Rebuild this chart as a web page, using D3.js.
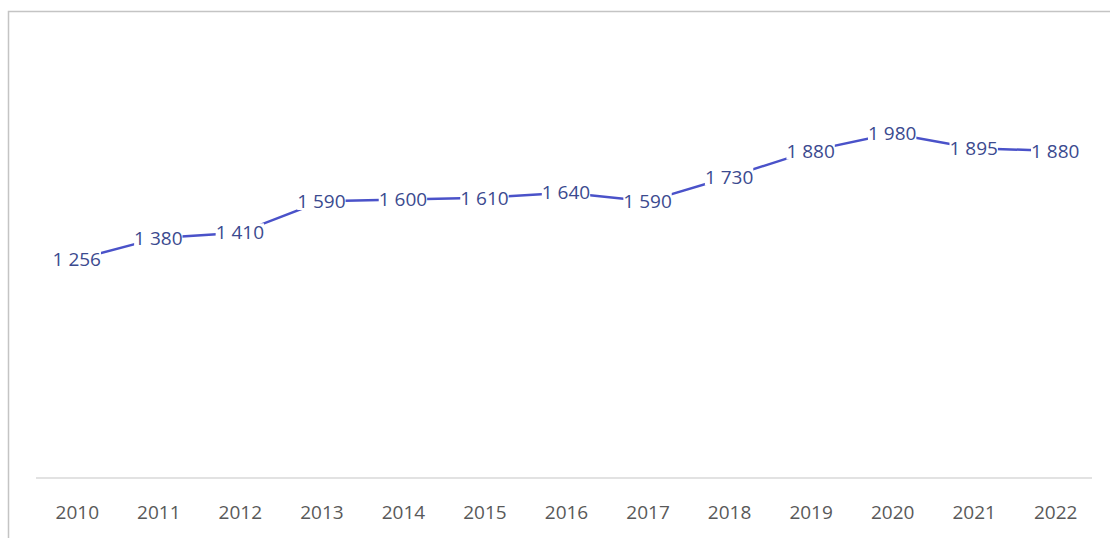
<!DOCTYPE html>
<html>
<head>
<meta charset="utf-8">
<script src="https://cdn.jsdelivr.net/npm/d3@7"></script>
<style>
  body { margin:0; background:#fff; }
  #canvas { width:1110px; height:538px; }
  text { font-family: "Open Sans", "Liberation Sans", sans-serif; }
</style>
</head>
<body>
<div id="canvas" class="canvas"></div>
<script>
// data
var years = ['2010','2011','2012','2013','2014','2015','2016','2017','2018','2019','2020','2021','2022'];
var values = [1256,1380,1410,1590,1600,1610,1640,1590,1730,1880,1980,1895,1880];
var labels = ['1 256','1 380','1 410','1 590','1 600','1 610','1 640','1 590','1 730','1 880','1 980','1 895','1 880'];
var yDomain = [0, 2500];

var outerWidth = 1110, outerHeight = 538;
var m = {t:43, r:14, b:60, l:36};
var w = outerWidth - m.l - m.r,
    h = outerHeight - m.t - m.b;

var svg = d3.select('.canvas')
    .append('svg')
    .attr('width', outerWidth)
    .attr('height', outerHeight);

// chart frame (left + top edge visible)
svg.append('path')
    .attr('d', 'M8.5,' + outerHeight + 'V11.5H' + outerWidth)
    .attr('fill', 'none')
    .attr('stroke', '#c4c4c4')
    .attr('stroke-width', 1.5);

var plot = svg.append('g')
    .attr('transform', 'translate(' + m.l + ',' + m.t + ')');

var scaleX = d3.scalePoint()
    .domain(years)
    .range([0, w])
    .padding(0.5);

var scaleY = d3.scaleLinear()
    .domain(yDomain)
    .range([h, 0]);

// x axis
var axisX = d3.axisBottom(scaleX).tickSize(0).tickPadding(28);
var axisNode = plot.append('g').attr('class', 'axis')
    .attr('transform', 'translate(0,' + h + ')')
    .call(axisX);
axisNode.select('.domain').attr('stroke', '#d9d9d9').attr('stroke-width', 1.5)
    .attr('d', 'M0,0H' + (w - 4));
axisNode.selectAll('text')
    .attr('fill', '#595959')
    .style('font-size', '19px');

// line
var line = d3.line()
    .x(function(d, i){ return scaleX(years[i]); })
    .y(function(d){ return scaleY(d); });

plot.append('path')
    .datum(values)
    .attr('fill', 'none')
    .attr('stroke', '#4a52c9')
    .attr('stroke-width', 2.5)
    .attr('d', line);

// data labels centred on points, with white boxes hiding the line
var lab = plot.selectAll('.lab')
    .data(values)
    .enter().append('g')
    .attr('class', 'lab')
    .attr('transform', function(d, i){ return 'translate(' + scaleX(years[i]) + ',' + scaleY(d) + ')'; });

lab.append('rect').attr('fill', '#fff');
lab.append('text')
    .attr('text-anchor', 'middle')
    .attr('dy', '0.35em')
    .attr('fill', '#3b4a8f')
    .style('font-size', '19px')
    .text(function(d, i){ return labels[i]; });

lab.each(function(){
    var g = d3.select(this);
    var bb = g.select('text').node().getBBox();
    g.select('rect')
        .attr('x', bb.x).attr('y', bb.y + 4)
        .attr('width', bb.width).attr('height', bb.height - 8);
});
</script>
</body>
</html>
